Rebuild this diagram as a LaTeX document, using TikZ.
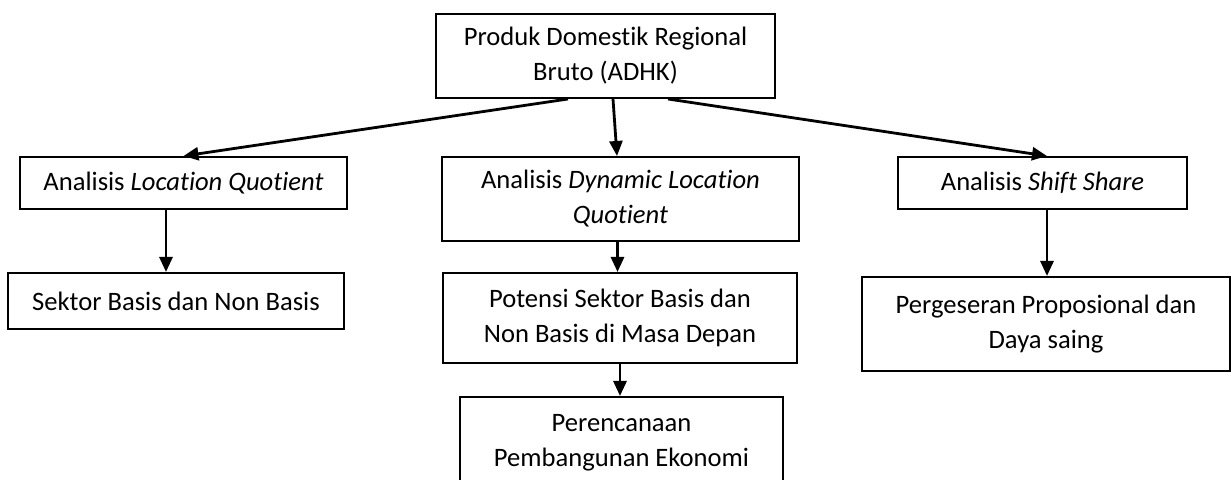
\documentclass[tikz,border=0pt]{standalone}
\usepackage{fontspec}
\setmainfont{Carlito}[Ligatures=NoCommon]
\usetikzlibrary{arrows.meta}

\tikzstyle{box}=[draw,line width=1pt,inner sep=0pt,align=center,font=\fontsize{13.3}{17.5}\selectfont]
\tikzstyle{flow}=[line width=1.4pt,-{Triangle[length=7.5pt,width=6.5pt]}]

\begin{document}
\begin{tikzpicture}[x=0.5pt,y=-0.5pt]
\useasboundingbox (0,0) rectangle (1231,480);
% top
\node[box,minimum width=169.5pt,minimum height=42pt] (pdrb) at (605.5,56) {Produk Domestik Regional\\Bruto (ADHK)};
% left column
\node[box,minimum width=163.5pt,minimum height=26pt] (lq) at (183.5,183) {Analisis \textit{Location Quotient}};
\node[box,minimum width=168pt,minimum height=28pt] (sektor) at (176,301) {Sektor Basis dan Non Basis};
% middle column
\node[box,minimum width=178.5pt,minimum height=42pt] (dlq) at (620.5,199) {Analisis \textit{Dynamic Location}\\\textit{Quotient}};
\node[box,minimum width=177pt,minimum height=45pt] (potensi) at (620,318) {Potensi Sektor Basis dan\\Non Basis di Masa Depan};
\node[box,minimum width=161.5pt,minimum height=46pt] (rencana) at (621.5,443) {Perencanaan\\Pembangunan Ekonomi};
% right column
\node[box,minimum width=144.5pt,minimum height=26pt] (ss) at (1042.5,183) {Analisis \textit{Shift Share}};
\node[box,minimum width=184pt,minimum height=47pt] (geser) at (1046,324) {Pergeseran Proposional dan\\Daya saing};
% arrows
\draw[flow] ([xshift=-18.75pt]pdrb.south) -- (lq.north);
\draw[flow] ([xshift=3.75pt]pdrb.south) -- ([xshift=-1.75pt]dlq.north);
\draw[flow] ([xshift=31.25pt]pdrb.south) -- ([xshift=2.25pt]ss.north);
\draw[flow] ([xshift=-8.75pt]lq.south) -- ([xshift=-8.75pt]lq.south |- sektor.north);
\draw[flow] ([xshift=-1.5pt]dlq.south) -- ([xshift=-1.5pt]dlq.south |- potensi.north);
\draw[flow] (potensi.south) -- (potensi.south |- rencana.north);
\draw[flow] ([xshift=2.25pt]ss.south) -- ([xshift=2.25pt]ss.south |- geser.north);
\end{tikzpicture}
\end{document}
